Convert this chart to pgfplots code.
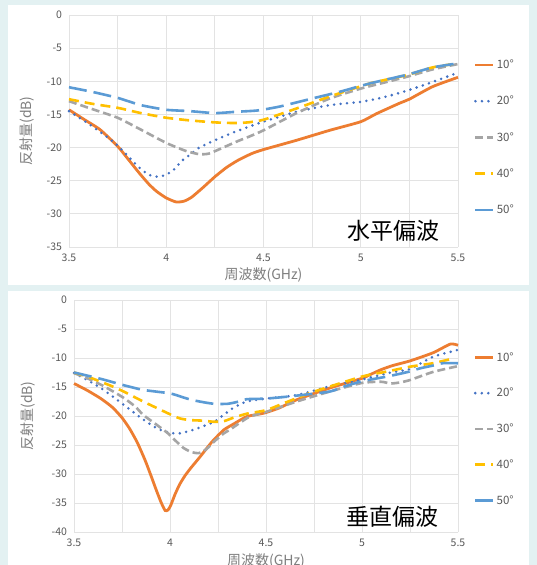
\documentclass[border=0pt]{standalone}
\usepackage{pgfplots}
\pgfplotsset{compat=1.18}
\usepackage{fontspec}
\setmainfont{Noto Sans CJK JP}
\definecolor{bgc}{HTML}{E3F1F2}
\definecolor{c10}{HTML}{ED7D31}
\definecolor{c20}{HTML}{4472C4}
\definecolor{c30}{HTML}{A5A5A5}
\definecolor{c40}{HTML}{FFC000}
\definecolor{c50}{HTML}{5B9BD5}
\definecolor{gridc}{HTML}{E3E3E3}
\definecolor{tickc}{HTML}{595959}
\definecolor{labc}{HTML}{7F7F7F}
\begin{document}
\begin{tikzpicture}
\useasboundingbox (0,0) rectangle (537bp,565bp);
\fill[bgc] (0,0) rectangle (537bp,565bp);
\fill[white] (8bp,280bp) rectangle (529bp,560bp);
\fill[white] (8bp,-5bp) rectangle (529bp,274bp);
\pgfplotsset{
  common/.style={
    scale only axis, clip=false,
    xmin=3.5, xmax=5.5,
    xtick={3.5,4,4.5,5,5.5},
    minor x tick num=1,
    xticklabels={3.5,4,4.5,5,5.5},
    grid=both,
    major grid style={gridc, line width=0.9bp},
    minor grid style={gridc, line width=0.9bp},
    axis line style={draw=none},
    major tick length=0pt, minor tick length=0pt,
    /pgf/number format/assume math mode=true,
    ticklabel style={font=\fontsize{10.5bp}{12bp}\selectfont, text=tickc},
    xticklabel style={yshift=-3.5bp},
    yticklabel style={xshift=-3.5bp},
    label style={font=\fontsize{14bp}{16bp}\selectfont, text=labc},
    xlabel={周波数(GHz)}, ylabel={反射量(dB)},
    legend cell align=left,
    legend image code/.code={\draw[#1] (0bp,0bp) -- (18bp,0bp);},
    every axis plot/.append style={smooth, tension=0.35},
  },
  s10/.style={c10, line width=2.8bp, solid},
  s20/.style={c20, line width=2.8bp, line cap=round, dash pattern=on 0bp off 6.5bp},
  s30/.style={c30, line width=2.6bp, dash pattern=on 8bp off 4bp},
  s40/.style={c40, line width=2.6bp, dash pattern=on 10bp off 6bp},
  s50/.style={c50, line width=2.6bp, dash pattern=on 18bp off 7bp},
}
% ---------------- top: horizontal polarisation
\begin{axis}[common,
  at={(69bp,318bp)}, anchor=south west, width=389bp, height=232bp,
  ymin=-35, ymax=0, ytick={-35,-30,-25,-20,-15,-10,-5,0},
  xlabel style={at={(axis description cs:0.5,-0.12)}, anchor=center},
  ylabel style={at={(axis description cs:-0.108,0.5)}, anchor=center, rotate=0},
  legend style={at={(rel axis cs:1.033,0.825)}, anchor=north west, draw=none, fill=none,
    font=\fontsize{11.5bp}{13bp}\selectfont, text=tickc, row sep=22bp},
]
\addplot[s10] coordinates {(3.5,-14.3) (3.58,-15.8) (3.66,-17.3) (3.75,-19.8) (3.8,-21.6) (3.86,-23.8) (3.91,-25.5) (3.95,-26.6) (4.0,-27.6) (4.05,-28.2) (4.09,-28.1) (4.13,-27.5) (4.19,-26.0) (4.25,-24.4) (4.31,-23.0) (4.37,-21.9) (4.44,-20.9) (4.5,-20.3) (4.67,-18.9) (4.84,-17.4) (5.0,-16.1) (5.08,-14.9) (5.2,-13.3) (5.25,-12.7) (5.37,-10.8) (5.5,-9.4)};
\addlegendentry{10°}
\addplot[s20] coordinates {(3.5,-14.5) (3.6,-16.4) (3.7,-18.5) (3.75,-19.7) (3.8,-21.2) (3.86,-23.0) (3.91,-24.1) (3.96,-24.4) (4.0,-24.1) (4.04,-23.3) (4.08,-22.0) (4.13,-20.9) (4.17,-20.0) (4.25,-18.9) (4.33,-17.9) (4.42,-16.9) (4.5,-16.1) (4.67,-14.6) (4.84,-13.6) (5.0,-13.1) (5.12,-12.4) (5.24,-11.4) (5.37,-10.1) (5.5,-8.7)};
\addlegendentry{20°}
\addplot[s30] coordinates {(3.5,-13.0) (3.62,-14.2) (3.75,-15.5) (3.87,-17.3) (4.0,-19.3) (4.1,-20.5) (4.17,-21.0) (4.22,-20.9) (4.3,-19.9) (4.37,-19.0) (4.43,-18.3) (4.5,-17.4) (4.67,-14.8) (4.84,-12.6) (5.0,-11.1) (5.12,-10.2) (5.24,-9.3) (5.37,-8.2) (5.5,-7.4)};
\addlegendentry{30°}
\addplot[s40] coordinates {(3.5,-12.7) (3.62,-13.4) (3.75,-14.0) (3.87,-14.8) (4.0,-15.5) (4.12,-15.9) (4.25,-16.2) (4.35,-16.3) (4.42,-16.2) (4.5,-15.8) (4.67,-14.1) (4.84,-12.3) (5.05,-10.3) (5.24,-9.05) (5.37,-7.9) (5.5,-7.3)};
\addlegendentry{40°}
\addplot[s50] coordinates {(3.5,-10.9) (3.62,-11.6) (3.75,-12.5) (3.87,-13.6) (4.0,-14.3) (4.12,-14.5) (4.25,-14.8) (4.36,-14.6) (4.47,-14.4) (4.585,-13.8) (4.75,-12.6) (4.89,-11.6) (5.05,-10.3) (5.24,-9.0) (5.37,-7.9) (5.5,-7.3)};
\addlegendentry{50°}
\node[font=\fontsize{23bp}{23bp}\selectfont, text=black] at (axis cs:5.166,-32.55) {水平偏波};
\end{axis}
% ---------------- bottom: vertical polarisation
\begin{axis}[common,
  at={(74bp,33bp)}, anchor=south west, width=384bp, height=232bp,
  ymin=-40, ymax=0, ytick={-40,-35,-30,-25,-20,-15,-10,-5,0},
  xlabel style={at={(axis description cs:0.5,-0.125)}, anchor=center},
  ylabel style={at={(axis description cs:-0.12,0.5)}, anchor=center, rotate=0},
  legend style={at={(rel axis cs:1.033,0.793)}, anchor=north west, draw=none, fill=none,
    font=\fontsize{11.5bp}{13bp}\selectfont, text=tickc, row sep=21.5bp},
]
\addplot[s10] coordinates {(3.5,-14.4) (3.57,-15.6) (3.64,-17.0) (3.7,-18.5) (3.75,-20.3) (3.79,-22.2) (3.83,-24.6) (3.87,-27.6) (3.90,-30.2) (3.93,-32.9) (3.955,-35.0) (3.975,-36.3) (3.99,-36.2) (4.005,-35.3) (4.025,-33.6) (4.05,-31.8) (4.08,-30.2) (4.11,-28.9) (4.155,-27.1) (4.22,-24.4) (4.28,-22.4) (4.33,-21.4) (4.4,-20.1) (4.49,-19.5) (4.57,-18.6) (4.66,-17.2) (4.83,-15.2) (5.0,-13.5) (5.04,-12.9) (5.1,-12.0) (5.16,-11.3) (5.25,-10.5) (5.37,-9.1) (5.46,-7.6) (5.5,-7.8)};
\addlegendentry{10°}
\addplot[s20] coordinates {(3.5,-12.6) (3.57,-13.8) (3.64,-15.2) (3.7,-16.6) (3.76,-18.1) (3.82,-19.6) (3.86,-20.6) (3.91,-21.7) (3.95,-22.4) (4.0,-22.9) (4.05,-23.0) (4.11,-22.5) (4.17,-21.8) (4.23,-21.0) (4.28,-19.8) (4.33,-18.6) (4.4,-17.5) (4.5,-17.0) (4.66,-16.4) (4.83,-14.9) (5.0,-13.7) (5.15,-12.5) (5.25,-11.9) (5.37,-9.8) (5.5,-8.6)};
\addlegendentry{20°}
\addplot[s30] coordinates {(3.5,-12.6) (3.57,-13.5) (3.64,-14.6) (3.7,-15.7) (3.76,-16.9) (3.82,-18.4) (3.86,-19.8) (3.93,-21.5) (3.99,-23.0) (4.03,-24.3) (4.07,-25.5) (4.11,-26.2) (4.15,-26.4) (4.19,-25.7) (4.23,-24.4) (4.28,-23.0) (4.31,-22.4) (4.41,-20.2) (4.5,-19.3) (4.66,-17.5) (4.83,-15.8) (5.0,-14.3) (5.1,-14.1) (5.15,-14.4) (5.2,-14.2) (5.25,-13.8) (5.37,-12.4) (5.5,-11.4)};
\addlegendentry{30°}
\addplot[s40] coordinates {(3.5,-12.5) (3.57,-13.2) (3.64,-14.1) (3.7,-14.9) (3.76,-15.8) (3.86,-17.5) (3.93,-18.6) (4.0,-19.7) (4.05,-20.4) (4.1,-20.7) (4.17,-20.8) (4.23,-21.0) (4.28,-20.9) (4.33,-20.3) (4.4,-19.6) (4.5,-19.0) (4.6,-17.7) (4.75,-15.8) (5.0,-13.2) (5.12,-12.4) (5.25,-11.5) (5.37,-10.9) (5.46,-10.2)};
\addlegendentry{40°}
\addplot[s50] coordinates {(3.5,-12.5) (3.64,-13.6) (3.76,-14.7) (3.86,-15.5) (4.0,-16.1) (4.06,-16.7) (4.11,-17.2) (4.17,-17.6) (4.23,-17.9) (4.3,-17.9) (4.36,-17.5) (4.4,-17.1) (4.5,-17.0) (4.63,-16.6) (4.83,-15.8) (4.9,-15.0) (5.0,-14.0) (5.13,-13.2) (5.24,-12.4) (5.3,-11.8) (5.37,-11.3) (5.42,-10.9) (5.5,-10.9)};
\addlegendentry{50°}
\node[font=\fontsize{23bp}{23bp}\selectfont, text=black] at (axis cs:5.161,-37.4) {垂直偏波};
\end{axis}
\end{tikzpicture}
\end{document}
